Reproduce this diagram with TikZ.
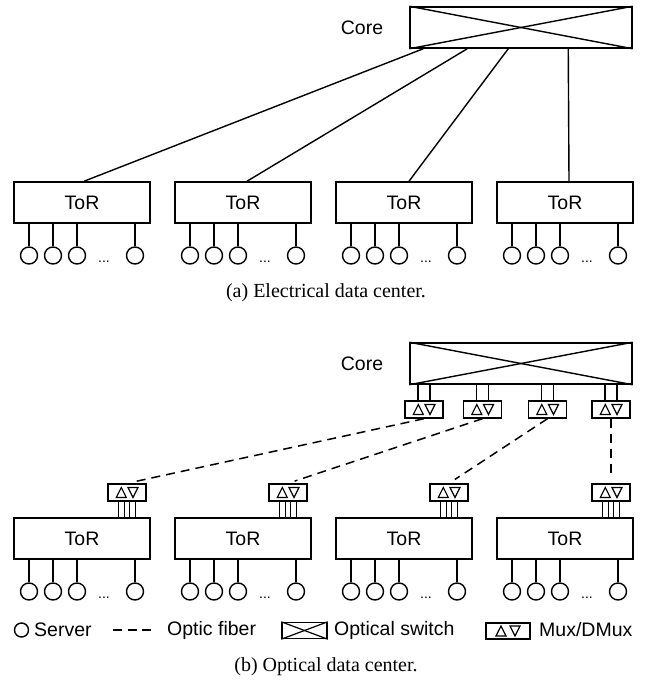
\documentclass[tikz,border=0pt]{standalone}
\usepackage{fontspec}
\setmainfont{Liberation Serif}
\setsansfont{Liberation Sans}
\usetikzlibrary{calc}
\begin{document}
\begin{tikzpicture}[x=1pt,y=-1pt,
  lw/.style={line width=1.4pt},
  thinln/.style={line width=1.1pt},
  box/.style={draw,line width=1.5pt,minimum width=136pt,minimum height=41pt,inner sep=0pt,font=\sffamily\fontsize{19.5}{21}\selectfont},
  corebox/.style={draw,line width=1.5pt,minimum width=222pt,minimum height=41pt,inner sep=0pt},
  srv/.style={draw,circle,line width=1.4pt,minimum size=17pt,inner sep=0pt},
  muxbox/.style={draw,line width=1.4pt,minimum width=38pt,minimum height=17pt,inner sep=0pt},
  fiber/.style={line width=1.5pt,dash pattern=on 9pt off 6pt},
  lbl/.style={inner sep=0pt,font=\sffamily\fontsize{19.5}{21}\selectfont},
  leg/.style={inner sep=0pt,font=\sffamily\fontsize{19.5}{22}\selectfont},
  dotsl/.style={inner sep=0pt,anchor=base,font=\sffamily\fontsize{14}{16}\selectfont},
  captxt/.style={inner sep=0pt,font=\fontsize{20}{24}\selectfont},
  mux/.pic={
    \node[muxbox] (-b) at (0,0) {};
    \draw[line width=1.2pt] (-10.7,5) -- (-0.7,5) -- (-5.7,-5) -- cycle;
    \draw[line width=1.2pt] (1,-5) -- (11,-5) -- (6,5) -- cycle;
  },
  legmux/.pic={
    \node[muxbox,minimum width=44pt,minimum height=16pt] (-b) at (0,0) {};
    \draw[line width=1.2pt] (-12,5) -- (-2,5) -- (-7,-5) -- cycle;
    \draw[line width=1.2pt] (2,-5) -- (12,-5) -- (7,5) -- cycle;
  }
]
\useasboundingbox (0,0) rectangle (645,688);

% ---------------- (a) electrical ----------------
\node[lbl] (corelabA) at (362,28) {Core};
\node[corebox] (coreA) at (521,27.5) {};
\draw[lw] (coreA.north west) -- (coreA.south east);
\draw[lw] (coreA.south west) -- (coreA.north east);

\foreach \i/\x in {1/82,2/243,3/404,4/565}{
  \node[box] (ta\i) at (\x,202.5) {ToR};
  \node[box] (tb\i) at (\x,538.5) {ToR};
}

\foreach \i/\cx/\tx in {1/14/2,2/58/4,3/99/5,4/159/4}{
  \coordinate (ca\i) at ($(coreA.south west)+(\cx,0)$);
  \coordinate (ra\i) at ($(ta\i.north)+(\tx,0)$);
  \draw[lw] (ca\i) -- (ra\i);
}

% servers
\foreach \t/\yc in {ta/255.5,tb/591.5}{
  \foreach \i/\x in {1/82,2/243,3/404,4/565}{
    \foreach \d [count=\k] in {-53,-29,-5,53}{
      \node[srv] (\t\i s\k) at (\x+\d,\yc) {};
      \draw[lw] (\t\i s\k.north) -- (\t\i s\k.north |- \t\i.south);
    }
    \node[dotsl] (\t\i dots) at (\x+22,\yc+6.5) {...};
  }
}

\node[captxt] (capA) at (326,293) {(a) Electrical data center.};

% ---------------- (b) optical ----------------
\node[lbl] (corelabB) at (362,364) {Core};
\node[corebox] (coreB) at (521,363.5) {};
\draw[lw] (coreB.north west) -- (coreB.south east);
\draw[lw] (coreB.south west) -- (coreB.north east);

\foreach \i/\cx/\tx in {1/424/127,2/482.5/288,3/547.5/449,4/611/611}{
  \pic (cm\i) at (\cx,409.5) {mux};
  \pic (tm\i) at (\tx,492.5) {mux};
  \coordinate (cm\i L) at ($(cm\i-b.north)+(-6,0)$);
  \coordinate (cm\i R) at ($(cm\i-b.north)+(6,0)$);
  \draw[lw] (cm\i L) -- (cm\i L |- coreB.south);
  \draw[lw] (cm\i R) -- (cm\i R |- coreB.south);
  \foreach \o [count=\m] in {-8.5,-2.8,2.8,8.5}{
    \coordinate (tm\i p\m) at ($(tm\i-b.south)+(\o,0)$);
    \draw[thinln] (tm\i p\m) -- (tm\i p\m |- tb\i.north);
  }
  \draw[fiber,shorten >=7pt] (cm\i-b.south) -- (tm\i-b.north);
}

% ---------------- legend ----------------
\node[srv,minimum size=14pt] (legsrv) at (21.5,630) {};
\node[leg,anchor=west] (legsrvt) at (34,630) {Server};
\coordinate (legf1) at (113,630);
\coordinate (legf2) at (151,630);
\draw[line width=1.5pt,dash pattern=on 9pt off 5.5pt] (legf1) -- (legf2);
\node[leg,anchor=west] (legft) at (167,630) {Optic fiber};
\node[draw,line width=1.4pt,minimum width=45pt,minimum height=16pt,inner sep=0pt] (legsw) at (304.5,630.5) {};
\draw[line width=1.2pt] (legsw.north west) -- (legsw.south east);
\draw[line width=1.2pt] (legsw.south west) -- (legsw.north east);
\node[leg,anchor=west] (legswt) at (334,630) {Optical switch};
\pic (legm) at (508,631) {legmux};
\node[leg,anchor=west] (legmt) at (539,630) {Mux/DMux};

\node[captxt] (capB) at (326,667) {(b) Optical data center.};
\end{tikzpicture}
\end{document}
